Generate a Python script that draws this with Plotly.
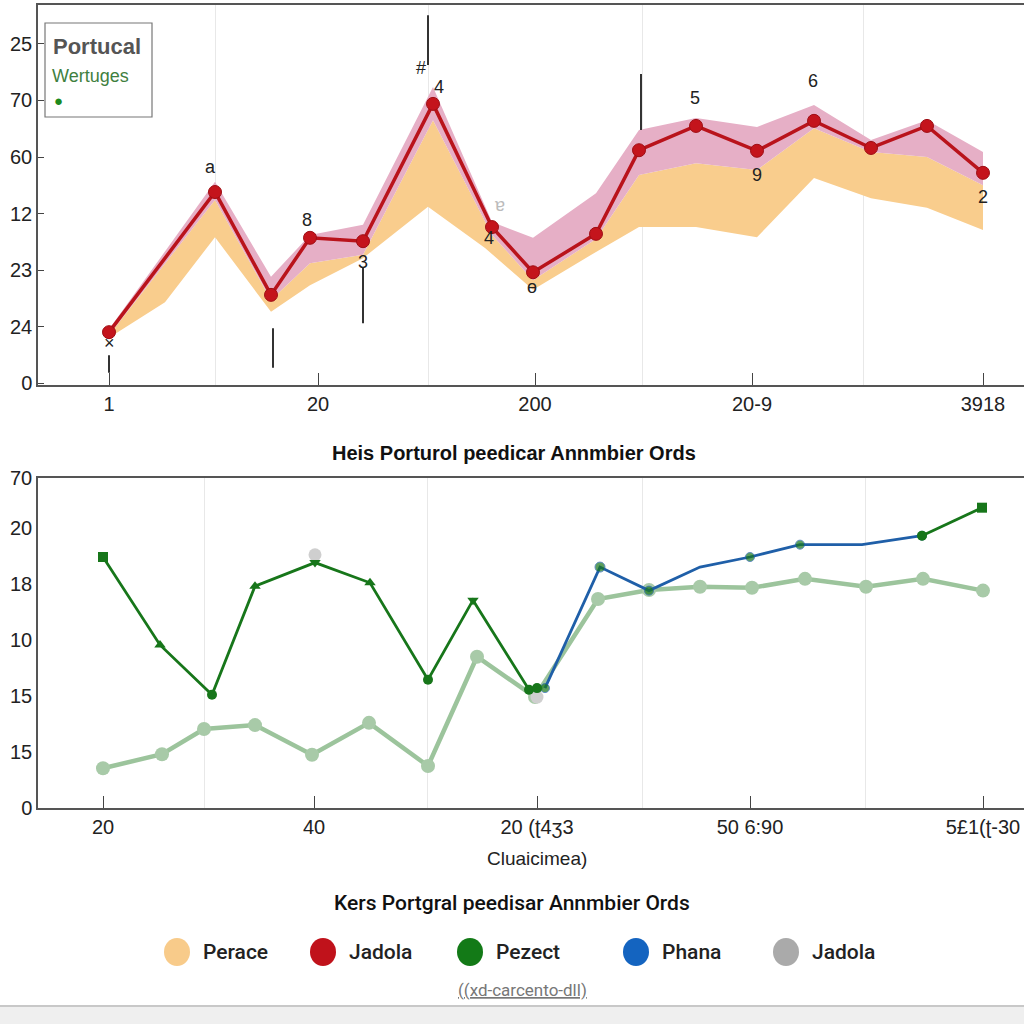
import plotly.graph_objects as go

# ---------------- data: top panel ----------------
top_x = [0, 10.6, 16.2, 20.1, 25.4, 32.4, 38.3, 42.4, 48.7, 53.0, 58.7, 64.8, 70.5, 76.2, 81.8, 87.4]
jadola_red = [0.90, 3.38, 1.56, 2.57, 2.51, 4.94, 2.76, 1.96, 2.64, 4.12, 4.55, 4.11, 4.64, 4.16, 4.55, 3.72]
pink_top = [0.95, 3.56, 1.88, 2.62, 2.80, 5.24, 2.85, 2.57, 3.36, 4.48, 4.69, 4.53, 4.92, 4.30, 4.65, 4.09]
perace_top = [0.85, 3.24, 1.47, 2.12, 2.27, 4.65, 2.62, 1.82, 2.55, 3.68, 3.89, 3.77, 4.51, 4.09, 4.00, 3.50]
perace_bot_x = [0, 5.6, 10.6, 16.2, 20.1, 25.4, 31.9, 37.6, 42.4, 48.7, 53.0, 58.7, 64.8, 70.5, 76.2, 81.8, 87.4]
perace_bot = [0.80, 1.43, 2.58, 1.26, 1.73, 2.21, 3.12, 2.39, 1.65, 2.32, 2.76, 2.76, 2.58, 3.63, 3.27, 3.10, 2.71]

spike_x = [0, 16.4, 25.4, 31.9, 53.2]
spike_lo = [0.18, 0.27, 1.06, 5.63, 4.48]
spike_hi = [0.49, 0.97, 2.04, 6.51, 5.47]

top_ytick_vals = [0, 1, 2, 3, 4, 5, 6]
top_ytick_text = ["0", "24", "23", "12", "60", "70", "25"]
top_xtick_vals = [0, 20.9, 42.6, 64.3, 87.4]
top_xtick_text = ["1", "20", "200", "20-9", "3918"]
top_grid = [10.6, 31.9, 53.3, 75.4]

top_labels = ["a", "8", "3", "#", "4", "4", "ɵ", "5", "6", "9", "2", "×", "ɐ"]
top_label_x = [10.1, 19.8, 25.4, 31.2, 33.0, 38.0, 42.3, 58.6, 70.4, 64.8, 87.4, 0, 39.1]
top_label_y = [3.82, 2.88, 2.14, 5.58, 5.24, 2.57, 1.70, 5.04, 5.35, 3.68, 3.29, 0.71, 3.15]

# ---------------- data: bottom panel ----------------
lg_x = [0, 5.9, 10.1, 15.2, 20.9, 26.6, 32.5, 37.4, 43.2, 49.5, 54.6, 59.7, 64.9, 70.2, 76.3, 82.0, 88.0]
lg_y = [0.71, 0.96, 1.41, 1.48, 0.95, 1.52, 0.75, 2.70, 1.98, 3.73, 3.89, 3.95, 3.93, 4.09, 3.95, 4.09, 3.88]

pezect_x = [0, 5.7, 10.9, 15.2, 21.2, 26.7, 32.5, 37.0, 42.6, 43.4, None, 81.9, 87.9]
pezect_y = [4.48, 2.91, 2.02, 3.96, 4.38, 4.02, 2.29, 3.71, 2.11, 2.14, None, 4.86, 5.36]
pezect_sym = ["square", "triangle-up", "circle", "triangle-up", "triangle-down", "triangle-up",
              "circle", "triangle-down", "circle", "circle", "circle", "circle", "square"]

phana_x = [44.2, 49.7, 54.6, 59.7, 64.7, 69.7, 75.9, 81.9]
phana_y = [2.14, 4.30, 3.88, 4.30, 4.48, 4.70, 4.70, 4.86]
phana_marker = [9, 10, 9, 0, 9, 9, 0, 9]

gray_x = [21.2, 43.4]
gray_y = [4.52, 1.98]

bot_ytick_vals = [0, 1, 2, 3, 4, 5, 5.89]
bot_ytick_text = ["0", "15", "15", "10", "18", "20", "70"]
bot_xtick_vals = [0, 21.1, 43.4, 64.7, 88.0]
bot_xtick_text = ["20", "40", "20 (ʈ4ʒ3", "50 6:90", "5£1(ʈ-30"]
bot_grid = [10.1, 32.4, 53.9, 76.2]

legend_names = ["Perace", "Jadola", "Pezect", "Phana", "Jadola"]
legend_colors = ["#F8CB8A", "#C0121B", "#137A17", "#1464C0", "#AAAAAA"]
legend_cx = [177, 323, 470, 636, 786]

# ---------------- colours ----------------
ORANGE = "#F9CD8D"
PINK = "#E6AFC6"
RED = "#B9131B"
GREEN = "#17761A"
BLUE = "#1F5FA8"
LIGHTG = "#9CC49C"
FONT = "Liberation Sans, Arial, sans-serif"
NARROW = "Roboto, Liberation Sans, sans-serif"

fig = go.Figure()

# orange band
fig.add_trace(go.Scatter(
    x=top_x + perace_bot_x[::-1], y=perace_top + perace_bot[::-1],
    fill="toself", fillcolor=ORANGE, line=dict(width=0), mode="lines",
    hoverinfo="skip", showlegend=False, xaxis="x", yaxis="y"))
# pink band
fig.add_trace(go.Scatter(
    x=top_x + top_x[::-1], y=pink_top + perace_top[::-1],
    fill="toself", fillcolor=PINK, line=dict(width=0), mode="lines",
    hoverinfo="skip", showlegend=False, xaxis="x", yaxis="y"))
# red line
fig.add_trace(go.Scatter(
    x=top_x, y=jadola_red, mode="lines+markers",
    line=dict(color=RED, width=3.5),
    marker=dict(color="#C4141C", size=13, line=dict(color="#9E0E14", width=1)),
    showlegend=False, xaxis="x", yaxis="y"))
# spikes
sx, sy = [], []
for xv, lo, hi in zip(spike_x, spike_lo, spike_hi):
    sx += [xv, xv, None]
    sy += [lo, hi, None]
fig.add_trace(go.Scatter(x=sx, y=sy, mode="lines", line=dict(color="#333333", width=2),
                         showlegend=False, xaxis="x", yaxis="y"))

# bottom panel
fig.add_trace(go.Scatter(
    x=lg_x, y=lg_y, mode="lines+markers",
    line=dict(color=LIGHTG, width=4.5),
    marker=dict(color="#A8CAA8", size=14),
    showlegend=False, xaxis="x2", yaxis="y2"))
fig.add_trace(go.Scatter(
    x=gray_x, y=gray_y, mode="markers",
    marker=dict(color="#CFCFCF", size=13),
    showlegend=False, xaxis="x2", yaxis="y2"))
fig.add_trace(go.Scatter(
    x=phana_x, y=phana_y, mode="lines+markers",
    line=dict(color=BLUE, width=2.8),
    marker=dict(color=GREEN, size=phana_marker),
    showlegend=False, xaxis="x2", yaxis="y2"))
fig.add_trace(go.Scatter(
    x=pezect_x, y=pezect_y, mode="lines+markers",
    line=dict(color=GREEN, width=2.8),
    marker=dict(color=GREEN, size=10, symbol=pezect_sym),
    showlegend=False, xaxis="x2", yaxis="y2"))

axis_common = dict(showline=True, linecolor="#555555", linewidth=1.5,
                   tickfont=dict(family=FONT, size=20, color="#222222"),
                   zeroline=False, showgrid=False, automargin=False)

fig.update_layout(
    width=1024, height=1024,
    margin=dict(l=0, r=0, t=0, b=0, pad=0, autoexpand=False),
    showlegend=False,
    paper_bgcolor="white", plot_bgcolor="white",
    font=dict(family=FONT),
    xaxis=dict(domain=[38 / 1024, 1], range=[-7.1, 91.5], anchor="y",
               tickvals=top_xtick_vals, ticktext=top_xtick_text,
               ticks="inside", ticklen=12, tickcolor="#444444", mirror=True,
               minor=dict(tickvals=top_grid, showgrid=True, gridcolor="#E8E8E8", ticks=""),
               **axis_common),
    yaxis=dict(domain=[1 - 385 / 1024, 1 - 5 / 1024], range=[-0.035, 6.69], anchor="x",
               tickvals=top_ytick_vals, ticktext=top_ytick_text,
               ticks="inside", ticklen=6, tickcolor="#444444",
               **axis_common),
    xaxis2=dict(domain=[38 / 1024, 1], range=[-6.5, 92.1], anchor="y2",
                tickvals=bot_xtick_vals, ticktext=bot_xtick_text,
                ticks="inside", ticklen=12, tickcolor="#444444", mirror=True,
                minor=dict(tickvals=bot_grid, showgrid=True, gridcolor="#E8E8E8", ticks=""),
                **axis_common),
    yaxis2=dict(domain=[1 - 808 / 1024, 1 - 478 / 1024], range=[0, 5.89], anchor="x2",
                tickvals=bot_ytick_vals, ticktext=bot_ytick_text,
                ticks="", **axis_common),
)

ann = []
for t, xv, yv in zip(top_labels, top_label_x, top_label_y):
    col = "#BBBBBB" if t == "ɐ" else "#222222"
    ann.append(dict(x=xv, y=yv, xref="x", yref="y", text=t, showarrow=False,
                    xanchor="center", yanchor="middle",
                    font=dict(family=FONT, size=18, color=col)))


def paper_text(xp, yp, text, size, color, family=FONT, xanchor="center", weight=None):
    f = dict(family=family, size=size, color=color)
    if weight:
        f["weight"] = weight
    return dict(x=xp / 1024, y=1 - yp / 1024, xref="paper", yref="paper", text=text,
                showarrow=False, xanchor=xanchor, yanchor="middle", font=f)


# top-left legend box
ann.append(paper_text(51, 46, "<b>Portucal</b>", 22, "#555555", xanchor="left"))
ann.append(paper_text(50, 76, "Wertuges", 18, "#3F7F3F", xanchor="left"))
ann.append(paper_text(52, 100, "●", 15, "#1D8A1D", xanchor="left"))

# titles & texts
ann.append(paper_text(514, 453, "<b>Heis Porturol peedicar Annmbier Ords</b>", 20, "#111111"))
ann.append(paper_text(537, 858, "Cluaicimea)", 19, "#222222"))
ann.append(paper_text(512, 903, "Kers Portgral peedisar Annmbier Ords", 21, "#111111",
                      family=NARROW, weight=500))
ann.append(paper_text(522, 990, "<u>((xd-carcento-dll)</u>", 17, "#777777", family=NARROW))

shapes = [
    dict(type="rect", xref="paper", yref="paper",
         x0=45 / 1024, x1=152 / 1024, y0=1 - 117 / 1024, y1=1 - 23 / 1024,
         line=dict(color="#777777", width=1.2), fillcolor="white", layer="above"),
    dict(type="rect", xref="paper", yref="paper", x0=0, x1=1, y0=0, y1=1 - 1006 / 1024,
         line=dict(width=0), fillcolor="#EFEFEF", layer="below"),
    dict(type="line", xref="paper", yref="paper", x0=0, x1=1,
         y0=1 - 1006 / 1024, y1=1 - 1006 / 1024, line=dict(color="#C8C8C8", width=2)),
]
for name, col, cx in zip(legend_names, legend_colors, legend_cx):
    shapes.append(dict(type="circle", xref="paper", yref="paper",
                       x0=(cx - 13) / 1024, x1=(cx + 13) / 1024,
                       y0=1 - 966 / 1024, y1=1 - 938 / 1024,
                       fillcolor=col, line=dict(width=0)))
    ann.append(paper_text(cx + 24, 952, name, 21, "#222222", family=NARROW,
                          xanchor="left", weight=500))

fig.update_layout(annotations=ann, shapes=shapes)
fig.write_html("out.html")
